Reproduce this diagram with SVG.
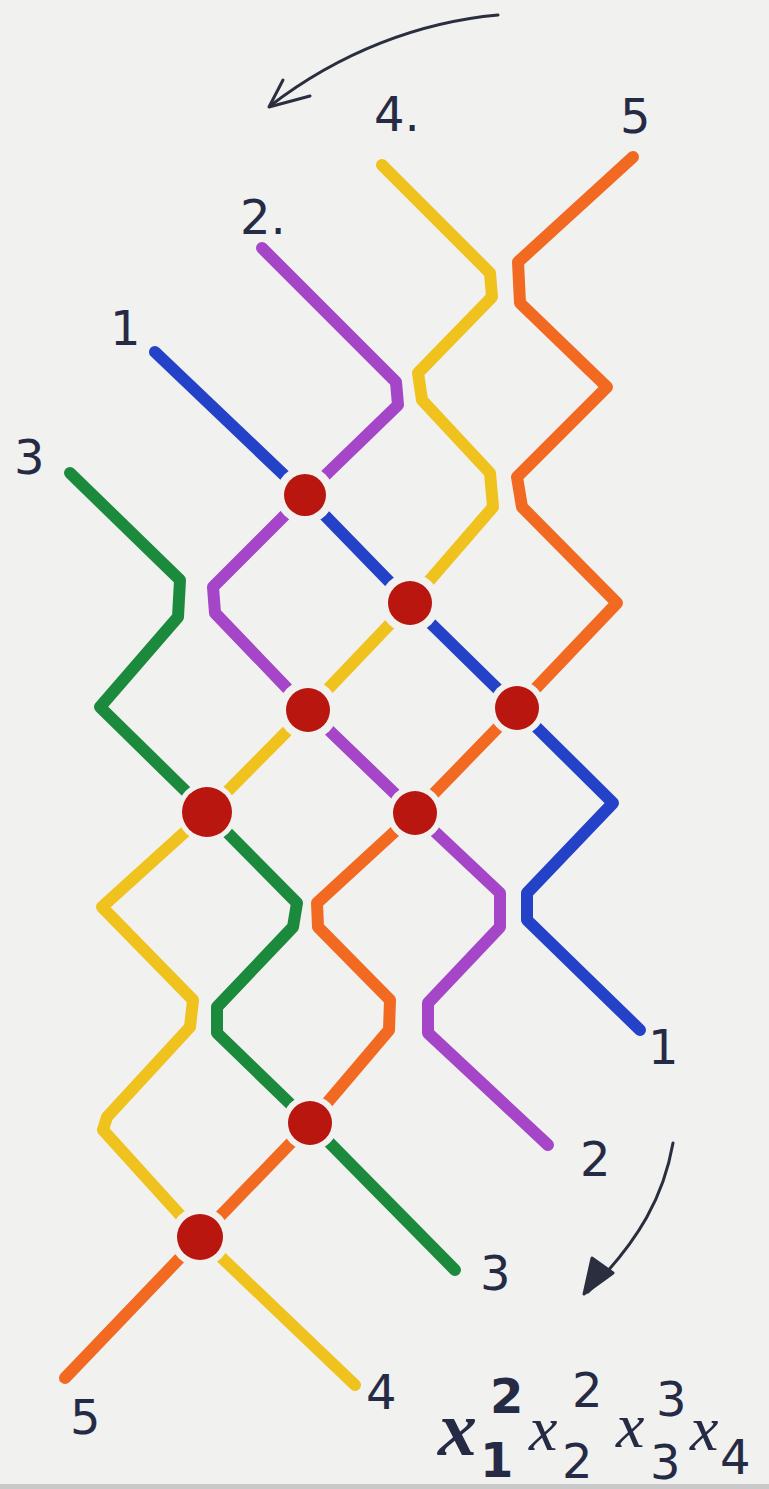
<svg xmlns="http://www.w3.org/2000/svg" width="769" height="1489" viewBox="0 0 769 1489">
<defs>
<style>
.s{fill:none;stroke-width:12;stroke-linecap:round;stroke-linejoin:round}
.b{stroke:#2342c8}.p{stroke:#a545c8}.y{stroke:#f0c21e}.o{stroke:#f26a22}.g{stroke:#1b8a3c}
.halo{fill:#f1f1f0}
.dot{fill:#b8160e}
.lbl{font-family:"DejaVu Sans","Liberation Sans",sans-serif;fill:#262b45;font-size:48px}
.x{font-family:"Liberation Serif","DejaVu Serif",serif;font-style:italic;fill:#262b45}
.ink{fill:none;stroke:#2a2e3e;stroke-width:3;stroke-linecap:round;stroke-linejoin:round}
</style>
</defs>
<rect width="769" height="1489" fill="#f1f1f0"/>
<rect y="1484" width="769" height="5" fill="#c9c9c9"/>
<g id="connectors">
<path class="ink" d="M498,15 C420,22 340,52 270,106"/>
<path class="ink" d="M283,80 L269,107 L310,96" stroke-width="5"/>
<path class="ink" d="M673,1143 C664,1195 640,1240 588,1292"/>
<path d="M592,1258 L584,1294 L613,1273 Z" fill="#2a2e3e" stroke="#2a2e3e" stroke-width="3" stroke-linejoin="round"/>
</g>
<g id="strand1"><polyline class="s b" points="155,352 305,495 410,603 517,708 613,803 527,893 527,920 640,1030"/></g>
<g id="strand2"><polyline class="s p" points="262,248 396,382 398,405 305,495 213,587 215,613 308,710 415,813 500,893 500,927 428,1003 428,1033 548,1145"/></g>
<g id="strand4"><polyline class="s y" points="382,165 490,273 492,297 418,373 422,400 490,473 493,507 410,603 308,710 207,812 102,907 193,1000 190,1027 107,1117 103,1130 200,1237 355,1385"/></g>
<g id="strand5"><polyline class="s o" points="633,157 518,262 520,303 607,387 517,477 522,507 617,603 517,708 415,813 317,903 318,927 390,1000 389,1030 310,1123 200,1237 65,1378"/></g>
<g id="strand3"><polyline class="s g" points="70,473 180,580 178,617 100,707 207,812 297,903 293,927 217,1007 217,1033 310,1123 455,1270"/></g>
<g id="crossings">
<circle class="halo" cx="305" cy="495" r="29"/><circle class="dot" cx="305" cy="495" r="21"/>
<circle class="halo" cx="410" cy="603" r="30"/><circle class="dot" cx="410" cy="603" r="22"/>
<circle class="halo" cx="308" cy="710" r="30"/><circle class="dot" cx="308" cy="710" r="22"/>
<circle class="halo" cx="517" cy="708" r="28"/><circle class="dot" cx="517" cy="708" r="22"/>
<circle class="halo" cx="207" cy="812" r="30"/><circle class="dot" cx="207" cy="812" r="25"/>
<circle class="halo" cx="415" cy="813" r="28"/><circle class="dot" cx="415" cy="813" r="22"/>
<circle class="halo" cx="310" cy="1123" r="28"/><circle class="dot" cx="310" cy="1123" r="22"/>
<circle class="halo" cx="200" cy="1237" r="30"/><circle class="dot" cx="200" cy="1237" r="23"/>
</g>
<g id="labels">
<text class="lbl" x="374" y="131">4.</text>
<text class="lbl" x="620" y="133">5</text>
<text class="lbl" x="240" y="234">2.</text>
<text class="lbl" x="110" y="345">1</text>
<text class="lbl" x="14" y="474">3</text>
<text class="lbl" x="648" y="1064">1</text>
<text class="lbl" x="580" y="1176">2</text>
<text class="lbl" x="480" y="1290">3</text>
<text class="lbl" x="70" y="1434">5</text>
<text class="lbl" x="366" y="1409">4</text>
</g>
<g id="formula">
<text class="x" x="438" y="1455" font-size="78" font-weight="bold">x</text>
<text class="lbl" x="480" y="1477" font-size="28" font-weight="bold">1</text>
<text class="lbl" x="490" y="1413" font-size="40" font-weight="bold">2</text>
<text class="x" x="529" y="1450" font-size="64">x</text>
<text class="lbl" x="562" y="1478" font-size="32">2</text>
<text class="lbl" x="572" y="1407" font-size="33">2</text>
<text class="x" x="616" y="1447" font-size="64">x</text>
<text class="lbl" x="650" y="1479" font-size="44">3</text>
<text class="lbl" x="656" y="1416" font-size="44">3</text>
<text class="x" x="690" y="1450" font-size="64">x</text>
<text class="lbl" x="720" y="1474" font-size="54">4</text>
</g>
</svg>
